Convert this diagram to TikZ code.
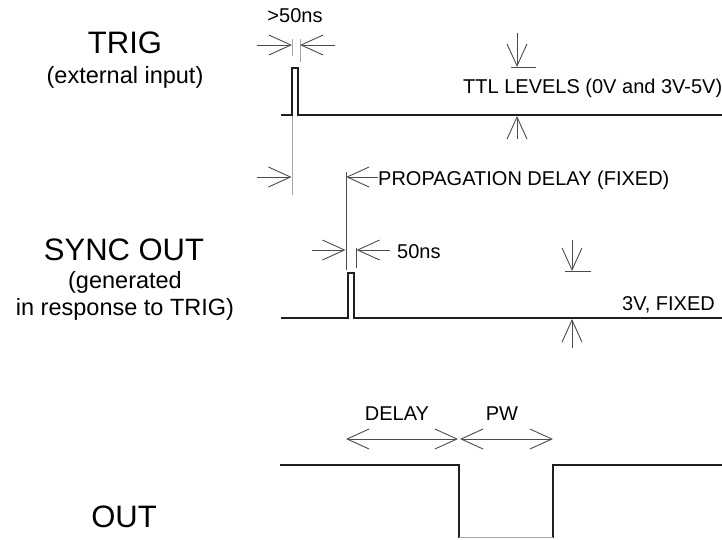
\documentclass[tikz,border=0pt]{standalone}
\usepackage{fontspec}
\setmainfont{Liberation Sans}
\usetikzlibrary{arrows.meta}
\begin{document}
\begin{tikzpicture}[x=1pt,y=-1pt,
  wave/.style={line width=2pt, draw=black!88, line join=miter},
  refl/.style={line width=1pt, draw=black!35},
  dim/.style={line width=0.9pt, draw=black!70},
  barb/.tip={Straight Barb[length=22pt,width=20pt,line width=0.9pt]},
  dimtip/.style={dim,-barb},
  dimboth/.style={dim,barb-barb},
  title/.style={inner sep=0pt, anchor=base, font=\fontsize{31}{36}\selectfont},
  sub/.style={inner sep=0pt, anchor=base, font=\fontsize{23.5}{28}\selectfont},
  dtext/.style={inner sep=0pt, anchor=base west, font=\fontsize{20}{24}\selectfont},
  dtextc/.style={inner sep=0pt, anchor=base, font=\fontsize{20}{24}\selectfont}
]
\useasboundingbox (0,0) rectangle (722,539);

% left labels
\node[title] (trig) at (125,53) {TRIG};
\node[sub] (trigsub) at (125,83) {(external input)};
\node[title] (sync) at (124,260) {SYNC OUT};
\node[sub] (syncsub1) at (125,288) {(generated};
\node[sub] (syncsub2) at (125,315) {in response to TRIG)};
\node[title] (out) at (124,527) {OUT};

% waveforms
\draw[wave] (281,115) -- (292,115) -- (292,68) -- (298,68) -- (298,115) -- (722,115);
\draw[wave] (281,318) -- (348,318) -- (348,273) -- (354,273) -- (354,318) -- (722,318);
\draw[wave] (280,465) -| (459,538);
\draw[wave] (553,538) |- (722,465);
\draw[refl] (459,537.5) -- (553,537.5);

% reference lines
\draw[refl] (292,39) -- (292,56);
\draw[refl] (300,39) -- (300,62);
\draw[refl] (292,116) -- (292,195);
\draw[dim] (346,172) -- (346,270);
\draw[dim] (356,248) -- (356,268);

% >50ns
\node[dtextc] (gt50) at (295,22) {>50ns};
\coordinate (a1s) at (257,45); \coordinate (a1e) at (292,45);
\coordinate (a2s) at (335,45); \coordinate (a2e) at (300,45);
\draw[dimtip] (a1s) -- (a1e);
\draw[dimtip] (a2s) -- (a2e);

% TTL levels
\coordinate (t1s) at (517,33); \coordinate (t1e) at (517,67);
\coordinate (t2s) at (517,139); \coordinate (t2e) at (517,116);
\draw[dimtip] (t1s) -- (t1e);
\draw[dim] (511,67) -- (536,67);
\draw[dimtip] (t2s) -- (t2e);
\node[dtext] (ttl) at (463,93) {TTL LEVELS (0V and 3V-5V)};

% propagation delay
\coordinate (p1s) at (257,177); \coordinate (p1e) at (291.5,177);
\node[dtext] (prop) at (378,185) {PROPAGATION DELAY (FIXED)};
\coordinate (p2e) at (346,177);
\draw[dimtip] (p1s) -- (p1e);
\draw[dimtip] (prop.west |- p2e) -- (p2e);

% 50ns
\coordinate (f1s) at (312,250); \coordinate (f1e) at (345.5,250);
\coordinate (f2s) at (390,250); \coordinate (f2e) at (356.5,250);
\draw[dimtip] (f1s) -- (f1e);
\draw[dimtip] (f2s) -- (f2e);
\node[dtext] (f50) at (397,258) {50ns};

% 3V fixed
\coordinate (v1s) at (572,240); \coordinate (v1e) at (572,271);
\coordinate (v2s) at (572,348); \coordinate (v2e) at (572,319);
\draw[dimtip] (v1s) -- (v1e);
\draw[dim] (565,271) -- (591,271);
\draw[dimtip] (v2s) -- (v2e);
\node[dtext] (v3) at (622,310) {3V, FIXED};

% delay / pw
\coordinate (d1) at (346,439); \coordinate (d2) at (458,439);
\coordinate (w1) at (460,439); \coordinate (w2) at (553,439);
\draw[dimboth] (d1) -- (d2);
\draw[dimboth] (w1) -- (w2);
\node[dtextc] (delay) at (397,420) {DELAY};
\node[dtextc] (pw) at (502,420) {PW};
\end{tikzpicture}
\end{document}
